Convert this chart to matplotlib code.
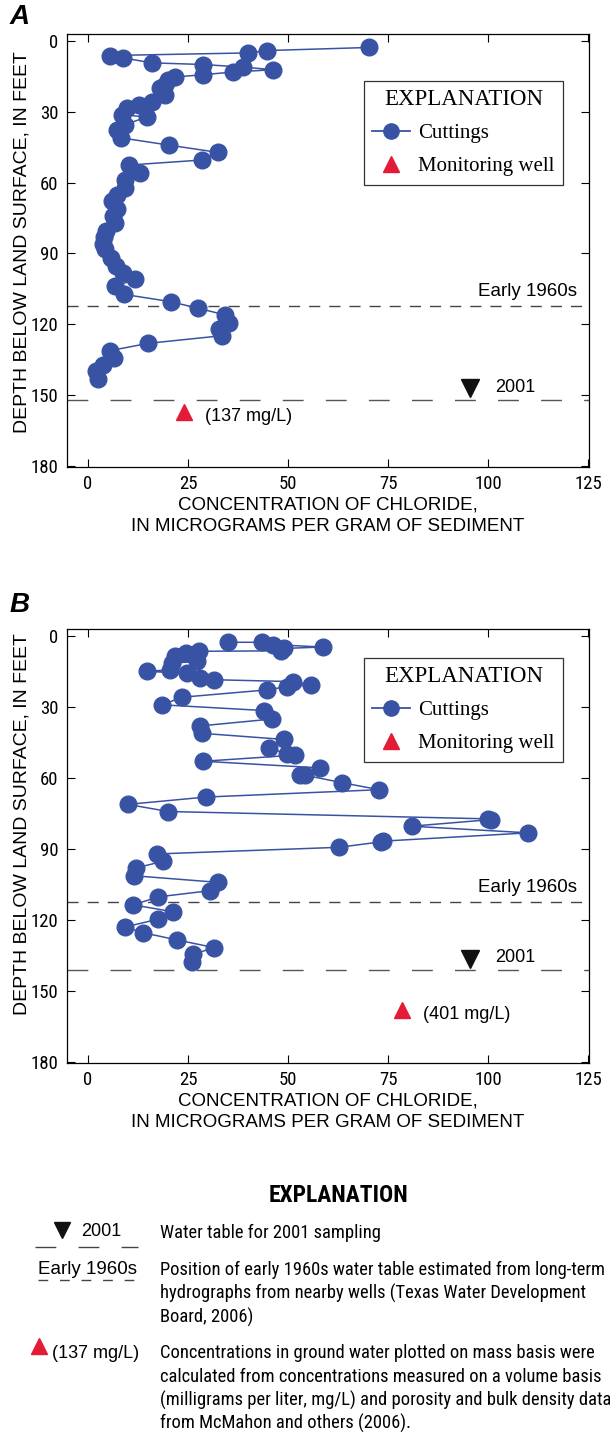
import matplotlib
matplotlib.use("Agg")
import matplotlib.pyplot as plt
from matplotlib import font_manager
from matplotlib.lines import Line2D

# chloride in cuttings, panel A (ug/g) vs depth (ft)
a_conc = [70.2, 44.8, 40.0, 5.5, 8.8, 15.9, 28.7, 38.8, 46.3, 36.2, 28.8, 21.8, 20.1, 19.3,
          18.0, 19.3, 15.9, 12.8, 9.7, 8.4, 14.7, 9.3, 7.3, 8.2, 20.3, 32.6, 28.4, 10.3, 13.0,
          9.3, 9.3, 7.3, 5.9, 7.3, 6.3, 6.8, 4.5, 4.0, 3.8, 4.3, 5.7, 7.0, 8.7, 11.8, 6.8, 9.0,
          20.7, 27.6, 34.3, 35.3, 32.8, 33.4, 15.1, 5.5, 6.6, 3.7, 2.0, 2.6]
a_depth = [2.9, 4.2, 5.2, 6.3, 7.3, 9.4, 10.1, 11.2, 12.3, 13.3, 14.4, 15.4, 16.8, 18.9,
           20.1, 23.1, 26.0, 27.1, 28.7, 31.3, 32.3, 35.5, 37.9, 41.1, 44.2, 47.3, 50.5, 52.6,
           56.1, 58.9, 62.4, 65.2, 68.0, 71.1, 74.3, 77.1, 80.4, 83.2, 86.2, 88.3, 91.9, 95.4,
           98.2, 101.0, 103.8, 107.3, 110.4, 113.2, 116.0, 119.2, 122.0, 124.8, 128.0, 131.1,
           134.2, 137.0, 139.5, 143.0]

# panel B
b_conc = [34.9, 43.4, 46.3, 58.7, 49.0, 48.2, 27.8, 24.5, 21.8, 27.2, 20.9, 20.5, 14.7, 24.7,
          28.0, 31.5, 51.3, 55.7, 49.7, 44.7, 23.4, 18.6, 44.0, 45.9, 28.0, 28.4, 49.0, 45.3,
          49.7, 51.8, 28.8, 58.0, 53.0, 54.3, 63.4, 72.8, 29.5, 9.9, 20.1, 100.1, 100.8, 80.9,
          110.1, 73.7, 73.2, 62.8, 17.3, 18.8, 12.0, 11.5, 32.6, 30.5, 17.6, 11.3, 21.3, 17.6,
          9.3, 13.7, 22.3, 31.5, 26.3, 25.9]
b_depth = [2.8, 2.8, 3.8, 4.8, 5.4, 6.4, 6.6, 7.3, 8.8, 10.9, 11.6, 14.4, 15.1, 15.8,
           17.9, 18.6, 19.4, 20.8, 21.5, 22.9, 26.0, 29.2, 31.6, 35.2, 38.1, 41.2, 43.8, 47.2,
           50.0, 50.4, 53.0, 55.8, 58.9, 58.9, 62.0, 65.0, 68.1, 71.2, 74.2, 77.3, 77.6, 80.4,
           83.2, 86.7, 87.0, 89.3, 92.1, 95.2, 98.0, 101.3, 104.1, 107.6, 110.2, 113.6, 116.5, 119.6,
           122.9, 125.3, 128.4, 131.6, 134.5, 137.7]

# monitoring well (converted to mass basis), label, water tables
well_conc = [24.0, 78.4]
well_depth = [157.1, 157.8]
well_label = ["(137 mg/L)", "(401 mg/L)"]
early_1960s = [112.2, 112.3]
wt_2001 = [151.8, 141.1]

xticks = [0, 25, 50, 75, 100, 125]
yticks = [0, 30, 60, 90, 120, 150, 180]

BLUE = "#3953a4"
RED = "#e31b37"

names = {f.name for f in font_manager.fontManager.ttflist}
narrow_name = "Roboto"
for cand in ["Roboto Condensed", "Liberation Sans Narrow", "Open Sans Condensed", "Roboto"]:
    if cand in names:
        narrow_name = cand
        break
NARROW = dict(family=narrow_name)
SANS = dict(family="Liberation Sans")
SERIF = dict(family="Liberation Serif")

fig = plt.figure(figsize=(6.1, 14.33), dpi=100)
renderer = fig.canvas.get_renderer()


def fit(t, width):
    # scale the font so the text gets the width it has in the scan
    w = t.get_window_extent(renderer).width
    t.set_fontsize(t.get_fontsize() * width / w)
    return t.get_fontsize()


# full-figure overlay in pixel units for the bottom explanation
ex = fig.add_axes([0, 0, 1, 1])
ex.set_xlim(0, 610)
ex.set_ylim(1433, 0)
ex.axis("off")


def panel(rect, conc, depth, i, letter, ylab_y, legend_top, letter_y):
    ax = fig.add_axes(rect)
    ax.plot(conc, depth, "-o", color=BLUE, lw=1.1, ms=12, mec=BLUE, zorder=3)
    ax.plot(well_conc[i], well_depth[i], "^", color=RED, ms=12, mec=RED, zorder=3)
    ax.text(well_conc[i] + 5.3, well_depth[i] + 2, well_label[i], fontsize=13,
            va="center", ha="left", **SANS)
    ax.axhline(early_1960s[i], color="#444444", lw=1.0, dashes=(8, 6.5), zorder=2)
    ax.axhline(wt_2001[i], color="#555555", lw=1.0, dashes=(15, 16), zorder=2)
    ax.text(122.3, early_1960s[i] - 6.2, "Early 1960s", fontsize=13.5, ha="right",
            va="center", **SANS)
    ax.plot(95.5, wt_2001[i] - 4.8, "v", color="#111111", ms=13, zorder=3)
    ax.text(101.7, wt_2001[i] - 5.2, "2001", fontsize=13, ha="left", va="center", **SANS)

    ax.set_xlim(-5.25, 125.25)
    ax.set_ylim(180.3, -2.8)
    ax.set_xticks(xticks)
    ax.set_yticks(yticks)
    ax.tick_params(direction="in", length=6, width=0.8, top=True, right=True,
                   labelsize=13.5, pad=6)
    for lab in ax.get_xticklabels() + ax.get_yticklabels():
        lab.set(**NARROW)
    for s in ax.spines.values():
        s.set_linewidth(0.9)

    ax.set_xlabel("CONCENTRATION OF CHLORIDE,\nIN MICROGRAMS PER GRAM OF SEDIMENT",
                  fontsize=13.5, linespacing=1.35, va="top", **SANS)
    ax.xaxis.set_label_coords(0.5, -0.069)
    ax.set_ylabel("DEPTH BELOW LAND SURFACE, IN FEET", fontsize=14, **SANS)
    ax.yaxis.set_label_coords(-0.07, ylab_y)

    handles = [Line2D([], [], color=BLUE, marker="o", lw=1.3, ms=11),
               Line2D([], [], color=RED, marker="^", lw=0, ms=12)]
    leg = ax.legend(handles, ["Cuttings", "Monitoring well"], title="EXPLANATION",
                    loc="upper right", bbox_to_anchor=(0.95, legend_top), borderaxespad=0,
                    prop=dict(size=15, **SERIF), title_fontproperties=dict(size=16.5, **SERIF),
                    fancybox=False, edgecolor="#333333", framealpha=1, borderpad=0.4,
                    handlelength=1.8, labelspacing=0.65, handletextpad=0.4)
    leg.get_frame().set_linewidth(0.9)

    fig.text(0.016, 1 - letter_y / 1433, letter, fontsize=20,
             fontweight="bold", style="italic", va="center", ha="left", **SANS)
    return ax


panel([67 / 610, 1 - 467 / 1433, 522 / 610, 433 / 1433], a_conc, a_depth, 0, "A", 0.52, 0.892, 17)
panel([67 / 610, 1 - 1063 / 1433, 522 / 610, 434 / 1433], b_conc, b_depth, 1, "B", 0.55, 0.934, 605)

# bottom explanation
t = ex.text(338, 1195, "EXPLANATION", fontsize=15, fontweight="bold", ha="center",
            va="center", **NARROW)
fit(t, 140)

ex.plot(61.5, 1230, "v", color="#111111", ms=12)
ex.text(81, 1232, "2001", fontsize=13, va="center", ha="left", **SANS)
ex.plot([35, 138], [1247, 1247], color="#444444", lw=1.0, dashes=(15, 16))

ex.text(38, 1270, "Early 1960s", fontsize=13.5, va="center", ha="left", **SANS)
ex.plot([38, 134], [1280, 1280], color="#444444", lw=1.0, dashes=(7, 8.5))

ex.plot(38.6, 1346, "^", color=RED, ms=12)
ex.text(52, 1353, "(137 mg/L)", fontsize=13, va="center", ha="left", **SANS)

body1 = ["Water table for 2001 sampling"]
body2 = ["Position of early 1960s water table estimated from long-term",
         "hydrographs from nearby wells (Texas Water Development",
         "Board, 2006)"]
body3 = ["Concentrations in ground water plotted on mass basis were",
         "calculated from concentrations measured on a volume basis",
         "(milligrams per liter, mg/L) and porosity and bulk density data",
         "from McMahon and others (2006)."]

probe = ex.text(160, 1270, body2[0], fontsize=12.5, va="center", **NARROW)
body_size = fit(probe, 447)
probe.remove()

for lines, y0 in [(body1, 1233), (body2, 1270), (body3, 1353)]:
    for k, line in enumerate(lines):
        ex.text(160, y0 + 23.5 * k, line, fontsize=body_size, va="center", **NARROW)

fig.savefig("out.png", dpi=100)
